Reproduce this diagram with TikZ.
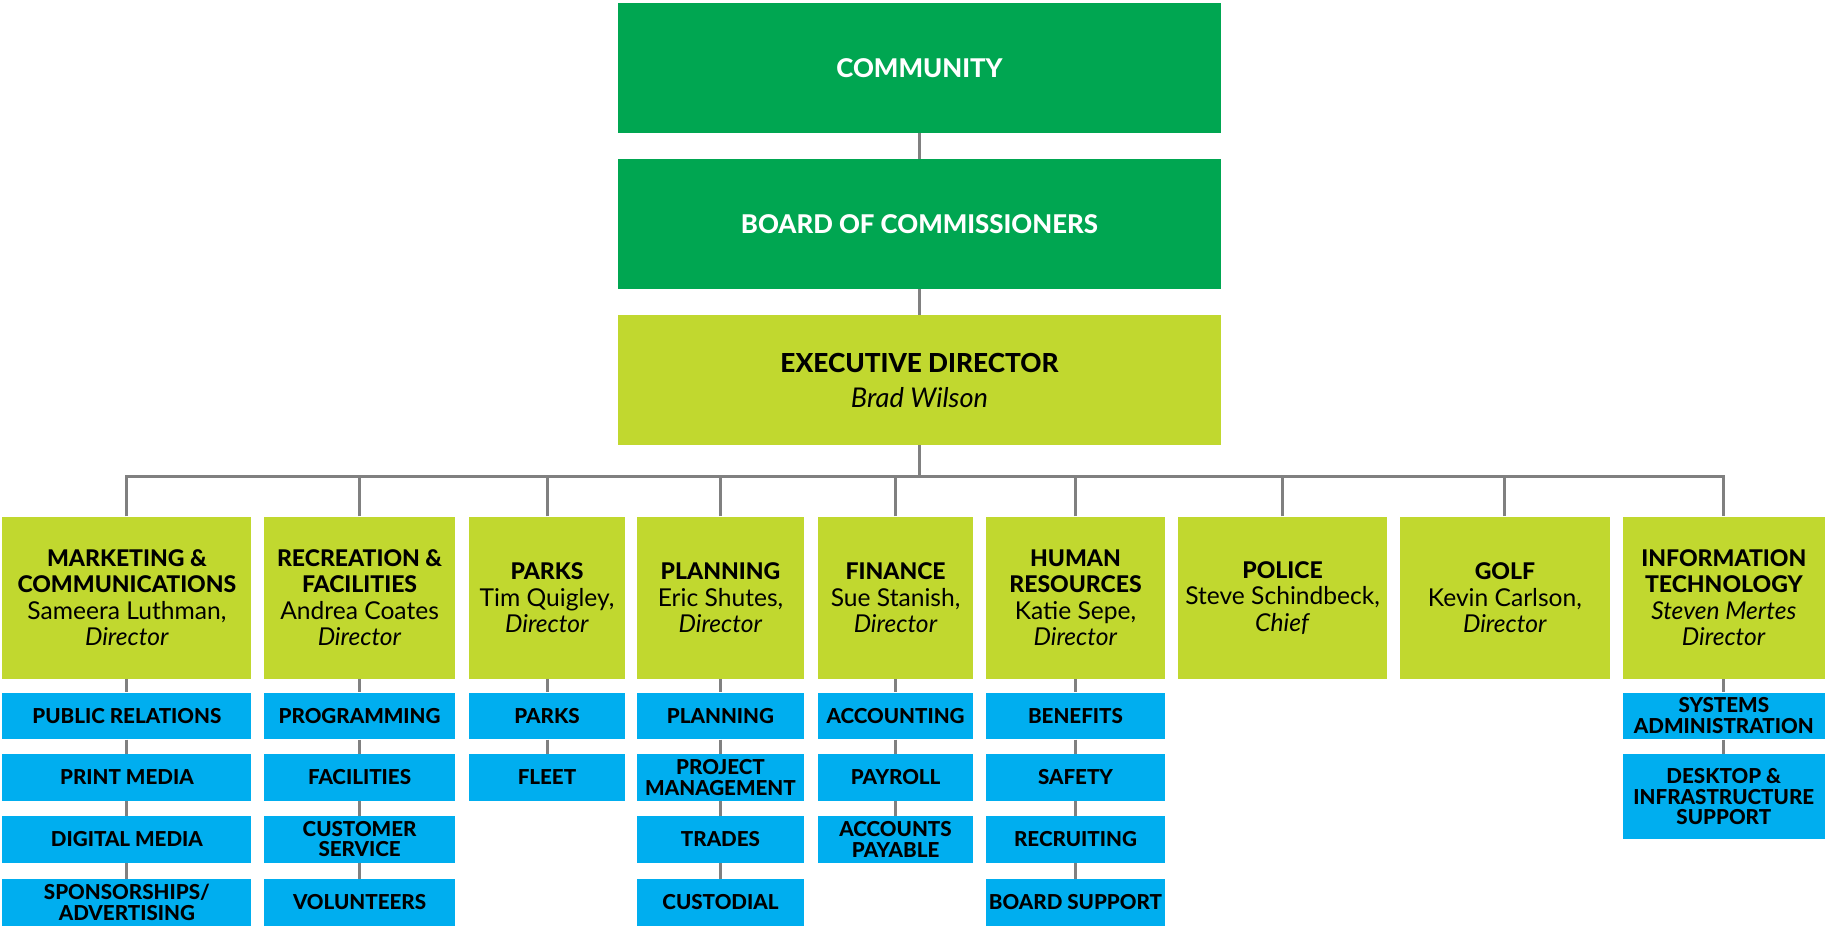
\documentclass[tikz,border=0pt]{standalone}
\usepackage{fontspec}
\setmainfont{Lato}[BoldFont={Lato Heavy}]
\usepackage{xcolor}
\definecolor{orggreen}{RGB}{0,166,81}
\definecolor{orglime}{RGB}{193,216,47}
\definecolor{orgblue}{RGB}{0,174,239}
\definecolor{orggray}{RGB}{128,128,128}
\usepackage{tikz}
\usetikzlibrary{backgrounds}
\newcommand{\orgtitle}[1]{{\fontsize{11.5}{13.3}\selectfont\bfseries #1}}
\tikzset{
  top box/.style={fill=orggreen, text=white, inner sep=0pt, minimum width=301.5pt, minimum height=64.6pt, align=center, font=\fontsize{12.9}{15}\selectfont\bfseries},
  exec box/.style={fill=orglime, inner sep=0pt, minimum width=301.5pt, minimum height=64.6pt, align=center, font=\fontsize{13.6}{17.5}\selectfont},
  dir box/.style={fill=orglime, inner sep=0pt, minimum height=80.9pt, align=center, font=\fontsize{12.3}{13.3}\selectfont},
  sub box/.style={fill=orgblue, inner sep=0pt, minimum height=23.3pt, align=center, font=\fontsize{10.3}{10.3}\selectfont\bfseries},
  org link/.style={draw=orggray, line width=1.5pt},
}
\begin{document}
\begin{tikzpicture}[x=0.5pt, y=-0.5pt]
  \useasboundingbox (0,0) rectangle (1825,926);
  \node[top box] (comm) at (919.5,68) {COMMUNITY};
  \node[top box] (board) at (919.5,224) {BOARD OF COMMISSIONERS};
  \node[exec box] (exec) at (919.5,380) {{\fontsize{13.1}{17.5}\selectfont\bfseries EXECUTIVE DIRECTOR}\\\textit{Brad Wilson}};
  \coordinate (bus) at (919.5,476);
  % directors
  \node[dir box, minimum width=124.5pt] (mkt) at (126.9,597.7) {\orgtitle{MARKETING \&}\\\orgtitle{COMMUNICATIONS}\\Sameera Luthman,\\\textit{Director}};
  \node[dir box, minimum width=95.5pt] (rec) at (359.6,597.7) {\orgtitle{RECREATION \&}\\\orgtitle{FACILITIES}\\Andrea Coates\\\textit{Director}};
  \node[dir box, minimum width=78pt] (parks) at (547,597.7) {\orgtitle{PARKS}\\Tim Quigley,\\\textit{Director}};
  \node[dir box, minimum width=83.8pt] (plan) at (720.5,597.7) {\orgtitle{PLANNING}\\Eric Shutes,\\\textit{Director}};
  \node[dir box, minimum width=77.4pt] (fin) at (895.6,597.7) {\orgtitle{FINANCE}\\Sue Stanish,\\\textit{Director}};
  \node[dir box, minimum width=89.6pt] (hr) at (1075.5,597.7) {\orgtitle{HUMAN}\\\orgtitle{RESOURCES}\\Katie Sepe,\\\textit{Director}};
  \node[dir box, minimum width=104.8pt] (police) at (1282.6,597.7) {\orgtitle{POLICE}\\Steve Schindbeck,\\\textit{Chief}};
  \node[dir box, minimum width=104.8pt] (golf) at (1504.9,597.7) {\orgtitle{GOLF}\\Kevin Carlson,\\\textit{Director}};
  \node[dir box, minimum width=101.2pt] (it) at (1723.8,597.7) {\orgtitle{INFORMATION}\\\orgtitle{TECHNOLOGY}\\\textit{Steven Mertes}\\\textit{Director}};
  % units
  \node[sub box, minimum width=124.5pt] (mkt1) at (126.9,715.8) {PUBLIC RELATIONS};
  \node[sub box, minimum width=124.5pt] (mkt2) at (126.9,777.5) {PRINT MEDIA};
  \node[sub box, minimum width=124.5pt] (mkt3) at (126.9,839.2) {DIGITAL MEDIA};
  \node[sub box, minimum width=124.5pt] (mkt4) at (126.9,902.3) {SPONSORSHIPS/\\ADVERTISING};
  \node[sub box, minimum width=95.5pt] (rec1) at (359.6,715.8) {PROGRAMMING};
  \node[sub box, minimum width=95.5pt] (rec2) at (359.6,777.5) {FACILITIES};
  \node[sub box, minimum width=95.5pt] (rec3) at (359.6,839.2) {CUSTOMER\\SERVICE};
  \node[sub box, minimum width=95.5pt] (rec4) at (359.6,902.3) {VOLUNTEERS};
  \node[sub box, minimum width=78pt] (parks1) at (547,715.8) {PARKS};
  \node[sub box, minimum width=78pt] (parks2) at (547,777.5) {FLEET};
  \node[sub box, minimum width=83.8pt] (plan1) at (720.5,715.8) {PLANNING};
  \node[sub box, minimum width=83.8pt] (plan2) at (720.5,777.5) {PROJECT\\MANAGEMENT};
  \node[sub box, minimum width=83.8pt] (plan3) at (720.5,839.2) {TRADES};
  \node[sub box, minimum width=83.8pt] (plan4) at (720.5,902.3) {CUSTODIAL};
  \node[sub box, minimum width=77.4pt] (fin1) at (895.6,715.8) {ACCOUNTING};
  \node[sub box, minimum width=77.4pt] (fin2) at (895.6,777.5) {PAYROLL};
  \node[sub box, minimum width=77.4pt] (fin3) at (895.6,839.2) {ACCOUNTS\\PAYABLE};
  \node[sub box, minimum width=89.6pt] (hr1) at (1075.5,715.8) {BENEFITS};
  \node[sub box, minimum width=89.6pt] (hr2) at (1075.5,777.5) {SAFETY};
  \node[sub box, minimum width=89.6pt] (hr3) at (1075.5,839.2) {RECRUITING};
  \node[sub box, minimum width=89.6pt] (hr4) at (1075.5,902.3) {BOARD SUPPORT};
  \node[sub box, minimum width=101.2pt] (it1) at (1723.8,715.8) {SYSTEMS\\ADMINISTRATION};
  \node[sub box, minimum width=101.2pt, minimum height=42.5pt] (it2) at (1723.8,796.7) {DESKTOP \&\\INFRASTRUCTURE\\SUPPORT};
  % connectors
  \begin{scope}[on background layer]
    \draw[org link] (comm) -- (board);
    \draw[org link] (board) -- (exec);
    \draw[org link] (exec.south) -- (bus);
    \draw[org link] (mkt.north) |- (bus) -| (it.north);
    \draw[org link] (rec.north) -- (rec.north |- bus);
    \draw[org link] (parks.north) -- (parks.north |- bus);
    \draw[org link] (plan.north) -- (plan.north |- bus);
    \draw[org link] (fin.north) -- (fin.north |- bus);
    \draw[org link] (hr.north) -- (hr.north |- bus);
    \draw[org link] (police.north) -- (police.north |- bus);
    \draw[org link] (golf.north) -- (golf.north |- bus);
    \draw[org link] (mkt) -- (mkt1) -- (mkt2) -- (mkt3) -- (mkt4);
    \draw[org link] (rec) -- (rec1) -- (rec2) -- (rec3) -- (rec4);
    \draw[org link] (parks) -- (parks1) -- (parks2);
    \draw[org link] (plan) -- (plan1) -- (plan2) -- (plan3) -- (plan4);
    \draw[org link] (fin) -- (fin1) -- (fin2) -- (fin3);
    \draw[org link] (hr) -- (hr1) -- (hr2) -- (hr3) -- (hr4);
    \draw[org link] (it) -- (it1) -- (it2);
  \end{scope}
\end{tikzpicture}
\end{document}
